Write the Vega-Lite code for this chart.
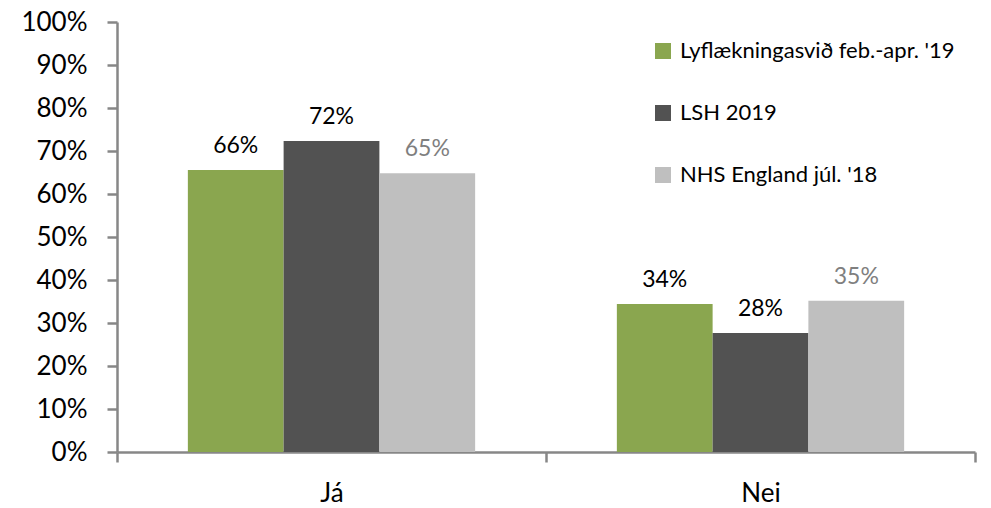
{
  "$schema": "https://vega.github.io/schema/vega-lite/v6.json",
  "width": 858,
  "height": 430,
  "autosize": {"type": "none"},
  "padding": {"left": 117, "top": 22, "right": 16, "bottom": 56},
  "config": {
    "font": "Lato",
    "view": {"stroke": null},
    "axis": {"grid": false}
  },
  "data": {
    "values": [
      {"svar": "Já", "series": "Lyflækningasvið feb.-apr. '19", "value": 0.656},
      {"svar": "Já", "series": "LSH 2019", "value": 0.723},
      {"svar": "Já", "series": "NHS England júl. '18", "value": 0.648},
      {"svar": "Nei", "series": "Lyflækningasvið feb.-apr. '19", "value": 0.344},
      {"svar": "Nei", "series": "LSH 2019", "value": 0.277},
      {"svar": "Nei", "series": "NHS England júl. '18", "value": 0.352}
    ]
  },
  "encoding": {
    "x": {
      "field": "svar", "type": "nominal", "sort": ["Já", "Nei"],
      "scale": {"paddingInner": 0, "paddingOuter": 0},
      "axis": {
        "title": null, "labelAngle": 0, "tickBand": "extent",
        "domainColor": "#878787", "domainWidth": 2.5,
        "tickColor": "#878787", "tickWidth": 2.5, "tickSize": 10,
        "labelFontSize": 26, "labelColor": "#000000", "labelPadding": 18
      }
    },
    "xOffset": {
      "field": "series", "type": "nominal",
      "sort": ["Lyflækningasvið feb.-apr. '19", "LSH 2019", "NHS England júl. '18"],
      "scale": {"paddingInner": 0, "paddingOuter": 0.74}
    },
    "y": {
      "field": "value", "type": "quantitative",
      "scale": {"domain": [0, 1], "nice": false},
      "axis": {
        "title": null, "format": ".0%", "values": [0, 0.1, 0.2, 0.3, 0.4, 0.5, 0.6, 0.7, 0.8, 0.9, 1],
        "domainColor": "#878787", "domainWidth": 2.5,
        "tickColor": "#878787", "tickWidth": 2.5, "tickSize": 10,
        "labelFontSize": 26, "labelColor": "#000000", "labelPadding": 20
      }
    }
  },
  "layer": [
    {
      "mark": {"type": "bar"},
      "encoding": {
        "color": {
          "field": "series", "type": "nominal",
          "sort": ["Lyflækningasvið feb.-apr. '19", "LSH 2019", "NHS England júl. '18"],
          "scale": {
            "domain": ["Lyflækningasvið feb.-apr. '19", "LSH 2019", "NHS England júl. '18"],
            "range": ["#8aa64f", "#525252", "#bfbfbf"]
          },
          "legend": {
            "title": null, "orient": "none", "legendX": 535, "legendY": 18,
            "symbolType": "square", "symbolSize": 256, "symbolStrokeWidth": 0,
            "labelFontSize": 22, "labelColor": "#000000", "labelOffset": 6,
            "rowPadding": 40, "labelLimit": 400
          }
        }
      }
    },
    {
      "mark": {"type": "text", "baseline": "bottom", "dy": -12, "fontSize": 23},
      "encoding": {
        "text": {"field": "value", "type": "quantitative", "format": ".0%"},
        "color": {
          "condition": {"test": "datum.series === \"NHS England júl. '18\"", "value": "#7f7f7f"},
          "value": "#000000"
        }
      }
    }
  ]
}
